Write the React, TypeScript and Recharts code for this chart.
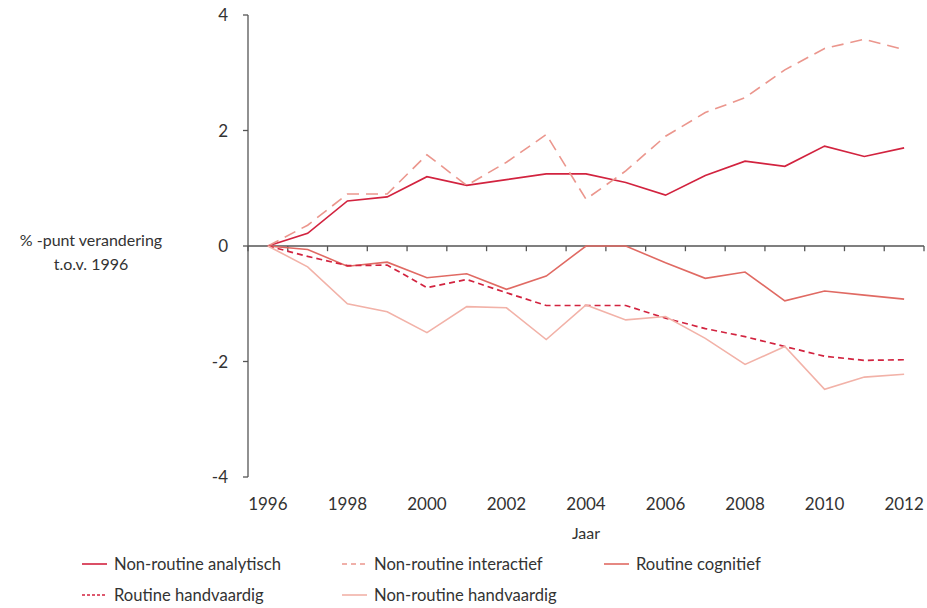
import React from "react";
import { LineChart, Line, XAxis, YAxis, ReferenceLine } from "recharts";

const years = [1996, 1997, 1998, 1999, 2000, 2001, 2002, 2003, 2004, 2005, 2006, 2007, 2008, 2009, 2010, 2011, 2012];

const nrAnalytisch = [0, 0.22, 0.78, 0.85, 1.2, 1.05, 1.15, 1.25, 1.25, 1.1, 0.88, 1.22, 1.47, 1.38, 1.73, 1.55, 1.7];
const nrInteractief = [0, 0.36, 0.9, 0.9, 1.58, 1.05, 1.45, 1.93, 0.81, 1.3, 1.9, 2.31, 2.57, 3.05, 3.42, 3.58, 3.4];
const rCognitief = [0, -0.06, -0.35, -0.28, -0.55, -0.48, -0.75, -0.52, 0, 0, -0.29, -0.56, -0.45, -0.95, -0.78, -0.85, -0.92];
const rHandvaardig = [0, -0.18, -0.34, -0.33, -0.72, -0.58, -0.81, -1.03, -1.03, -1.03, -1.25, -1.43, -1.57, -1.74, -1.91, -1.98, -1.97];
const nrHandvaardig = [0, -0.36, -1.0, -1.14, -1.5, -1.05, -1.07, -1.62, -1.02, -1.28, -1.22, -1.6, -2.05, -1.74, -2.48, -2.27, -2.22];

const yTicks = [-4, -2, 0, 2, 4];
const xTicks = [1996, 1998, 2000, 2002, 2004, 2006, 2008, 2010, 2012];

const series = [
  { key: "nrAnalytisch", name: "Non-routine analytisch", values: nrAnalytisch, color: "#d2233f", dash: undefined, legendDash: undefined, width: 1.7 },
  { key: "nrInteractief", name: "Non-routine interactief", values: nrInteractief, color: "#eb968d", dash: "12 7", legendDash: "5 4", width: 1.6 },
  { key: "rCognitief", name: "Routine cognitief", values: rCognitief, color: "#e06a63", dash: undefined, legendDash: undefined, width: 1.6 },
  { key: "rHandvaardig", name: "Routine handvaardig", values: rHandvaardig, color: "#d2233f", dash: "6 4", legendDash: "3 2", width: 1.7 },
  { key: "nrHandvaardig", name: "Non-routine handvaardig", values: nrHandvaardig, color: "#f2b2a8", dash: undefined, legendDash: undefined, width: 1.6 },
];

const data = years.map((year, i) => {
  const row: Record<string, number> = { year };
  series.forEach((s) => (row[s.key] = s.values[i]));
  return row;
});

// tick marks on the zero line sit between the years
const boundaries = [...years.map((y) => y - 0.5), years[years.length - 1] + 0.5];

const font = "Lato, 'Open Sans', sans-serif";
const textColor = "#333";

// legend placement: [left of line, row]
const legendPos = [
  [82, 0],
  [342, 0],
  [604, 0],
  [82, 1],
  [342, 1],
];

export default function App() {
  return (
    <div style={{ position: "absolute", left: 0, top: 0, width: 927, height: 608, background: "#fff", fontFamily: font, color: textColor }}>
      <LineChart width={927} height={608} data={data} margin={{ top: 15, right: 3, bottom: 101, left: 188 }}>
        <XAxis
          dataKey="year"
          type="number"
          domain={[1995.5, 2012.5]}
          ticks={xTicks}
          axisLine={false}
          tickLine={false}
          height={30}
          tickMargin={15}
          tick={{ fill: textColor, fontSize: 17, fontFamily: font }}
        />
        <YAxis
          type="number"
          domain={[-4, 4]}
          ticks={yTicks}
          width={60}
          axisLine={{ stroke: "#555", strokeWidth: 1.3 }}
          tickLine={{ stroke: "#555", strokeWidth: 1.3 }}
          tickSize={5}
          tickMargin={15}
          tick={{ fill: textColor, fontSize: 17, fontFamily: font }}
        />
        <ReferenceLine y={0} stroke="#555" strokeWidth={1.3} />
        {boundaries.map((b) => (
          <ReferenceLine
            key={b}
            segment={[
              { x: b, y: 0 },
              { x: b, y: -0.09 },
            ]}
            stroke="#555"
            strokeWidth={1.3}
          />
        ))}
        {series.map((s) => (
          <Line
            key={s.key}
            dataKey={s.key}
            name={s.name}
            type="linear"
            stroke={s.color}
            strokeWidth={s.width}
            strokeDasharray={s.dash}
            dot={false}
            activeDot={false}
            isAnimationActive={false}
          />
        ))}
      </LineChart>

      <div style={{ position: "absolute", left: 0, top: 228, width: 182, textAlign: "center", fontSize: 16, lineHeight: "24px" }}>
        % -punt verandering
        <br />
        t.o.v. 1996
      </div>

      <div style={{ position: "absolute", left: 486, top: 522, width: 200, textAlign: "center", fontSize: 16, lineHeight: "22px" }}>Jaar</div>

      {series.map((s, i) => {
        const [left, row] = legendPos[i];
        return (
          <div
            key={s.key}
            style={{ position: "absolute", left, top: 552 + row * 31, height: 24, display: "flex", alignItems: "center", fontSize: 16.6, whiteSpace: "nowrap" }}
          >
            <svg width={25} height={4} style={{ marginRight: 7 }}>
              <line x1={0} y1={2} x2={25} y2={2} stroke={s.color} strokeWidth={1.6} strokeDasharray={s.legendDash} />
            </svg>
            {s.name}
          </div>
        );
      })}
    </div>
  );
}
